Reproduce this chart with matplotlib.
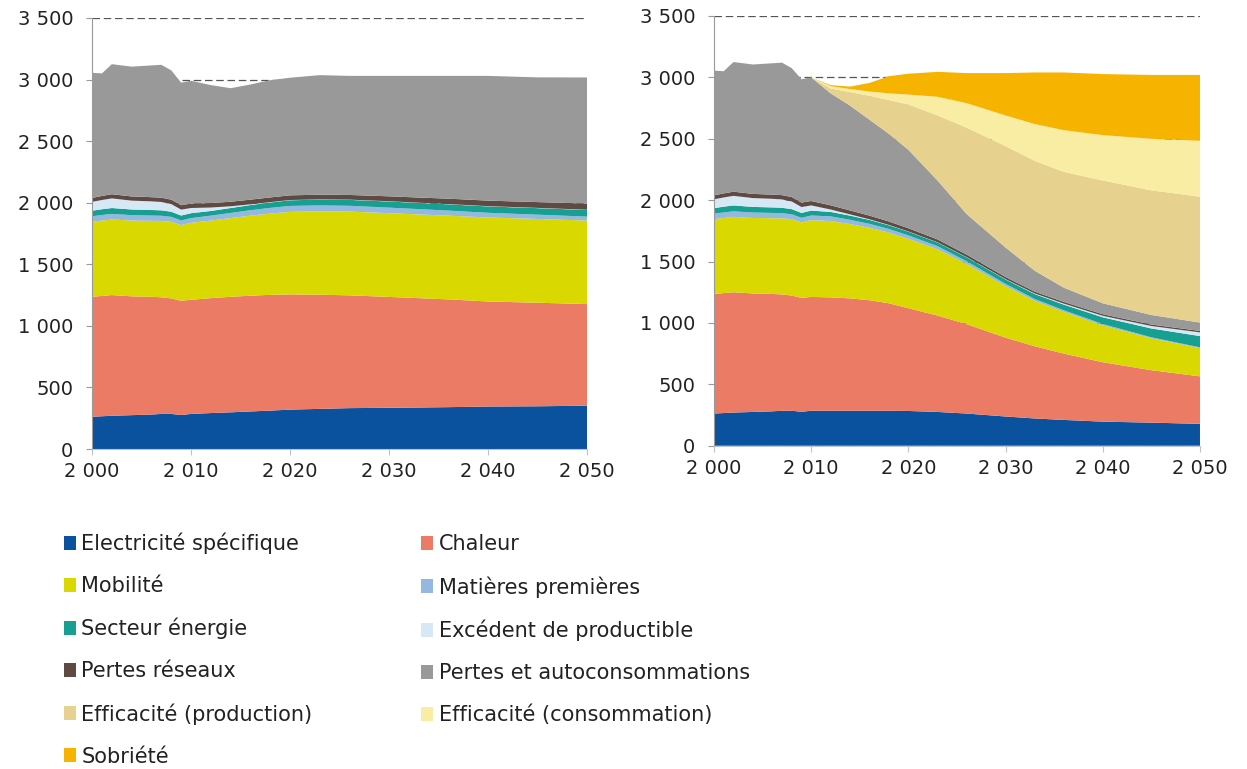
import matplotlib
matplotlib.use('Agg')
import matplotlib.pyplot as plt
from matplotlib.patches import Patch
from matplotlib.ticker import FuncFormatter

years = [2000, 2001, 2002, 2004, 2006, 2007, 2008, 2009, 2010, 2012, 2014,
         2016, 2018, 2020, 2023, 2026, 2030, 2033, 2036, 2040, 2045, 2050]

labels = ['Electricité spécifique', 'Chaleur', 'Mobilité', 'Matières premières',
          'Secteur énergie', 'Excédent de productible', 'Pertes réseaux',
          'Pertes et autoconsommations', 'Efficacité (production)',
          'Efficacité (consommation)', 'Sobriété']
colors = ['#0a529e', '#ec7b66', '#d9d800', '#95b8e0', '#17a092', '#d6e7f5',
          '#5e4a43', '#999999', '#e6d18f', '#f8eda2', '#f6b300']

# scenario tendanciel (left)
elec_l = [262, 266, 270, 275, 280, 285, 285, 276, 285, 292, 298, 305, 312, 320, 326, 332, 335, 337, 340, 345, 347, 352]
chaleur_l = [974, 977, 980, 965, 956, 947, 938, 928, 927, 933, 938, 940, 940, 935, 927, 916, 900, 888, 875, 853, 841, 825]
mobilite_l = [609, 612, 614, 615, 617, 620, 622, 614, 625, 630, 639, 650, 660, 671, 677, 680, 680, 680, 680, 682, 680, 678]
matieres_l = [45, 45, 45, 44, 43, 42, 40, 38, 38, 40, 42, 44, 46, 48, 48, 47, 45, 43, 41, 38, 35, 32]
energie_l = [45, 47, 48, 46, 45, 44, 42, 40, 40, 38, 40, 42, 44, 46, 47, 48, 50, 50, 51, 52, 53, 54]
excedent_l = [72, 75, 78, 72, 70, 68, 62, 48, 42, 28, 14, 6, 3, 2, 2, 2, 2, 2, 2, 2, 2, 2]
reseaux_l = [32, 33, 34, 34, 34, 35, 36, 36, 36, 36, 37, 38, 38, 38, 38, 38, 40, 42, 44, 45, 47, 50]
pertes_l = [1016, 995, 1056, 1054, 1070, 1079, 1050, 995, 997, 958, 922, 935, 952, 955, 971, 967, 978, 988, 997, 1013, 1013, 1024]
zeros = [0] * len(years)

# scenario negaWatt (right)
elec_r = [262, 266, 270, 275, 280, 285, 285, 276, 285, 285, 285, 285, 285, 283, 275, 262, 238, 222, 210, 196, 188, 178]
chaleur_r = [974, 977, 980, 965, 956, 947, 938, 928, 927, 923, 915, 900, 875, 837, 785, 728, 642, 588, 540, 484, 427, 387]
mobilite_r = [609, 612, 614, 615, 617, 620, 622, 614, 625, 622, 605, 590, 575, 565, 540, 490, 420, 370, 340, 300, 260, 230]
matieres_r = [45, 45, 45, 44, 43, 42, 40, 38, 38, 38, 35, 32, 30, 28, 25, 22, 18, 15, 13, 11, 8, 6]
energie_r = [45, 47, 48, 46, 45, 44, 42, 40, 40, 36, 34, 32, 30, 30, 30, 32, 36, 40, 46, 55, 72, 92]
excedent_r = [72, 75, 78, 72, 70, 68, 62, 48, 42, 20, 10, 5, 3, 2, 2, 2, 3, 5, 8, 12, 20, 30]
reseaux_r = [32, 33, 34, 34, 34, 35, 36, 36, 36, 34, 32, 30, 28, 26, 23, 20, 17, 15, 14, 13, 12, 12]
pertes_r = [1016, 995, 1056, 1054, 1070, 1079, 1050, 1005, 1007, 912, 854, 781, 714, 639, 480, 330, 240, 170, 116, 89, 78, 68]
effprod_r = [0, 0, 0, 0, 0, 0, 0, 0, 0, 40, 110, 195, 275, 370, 530, 704, 826, 895, 943, 1000, 1015, 1025]
effcons_r = [0, 0, 0, 0, 0, 0, 0, 0, 0, 19, 25, 35, 55, 80, 152, 200, 250, 300, 340, 370, 420, 456]
sobriete_r = [0, 0, 0, 0, 0, 0, 0, 0, 0, 8, 20, 70, 140, 170, 203, 245, 345, 420, 470, 497, 520, 536]

left_series = [elec_l, chaleur_l, mobilite_l, matieres_l, energie_l, excedent_l,
               reseaux_l, pertes_l, zeros, zeros, zeros]
right_series = [elec_r, chaleur_r, mobilite_r, matieres_r, energie_r, excedent_r,
                reseaux_r, pertes_r, effprod_r, effcons_r, sobriete_r]

plt.rcParams['font.family'] = ['DejaVu Sans']
fig = plt.figure(figsize=(12.47, 7.69), dpi=100)
ax1 = fig.add_axes([0.0738, 0.4161, 0.397, 0.5605])
ax2 = fig.add_axes([0.5726, 0.4204, 0.3897, 0.5588])

fmt = FuncFormatter(lambda v, _: f"{int(round(v)):,}".replace(',', ' '))

for ax, series in [(ax1, left_series), (ax2, right_series)]:
    ax.stackplot(years, *series, colors=colors, linewidth=0)
    ax.set_xlim(2000, 2050)
    ax.set_ylim(0, 3500)
    ax.set_xticks(range(2000, 2051, 10))
    ax.set_yticks(range(0, 3501, 500))
    ax.xaxis.set_major_formatter(fmt)
    ax.yaxis.set_major_formatter(fmt)
    ax.yaxis.grid(True, linestyle=(0, (6, 3)), color='#555555', linewidth=0.9)
    ax.set_axisbelow(True)
    for s in ['top', 'right']:
        ax.spines[s].set_visible(False)
    ax.spines['left'].set_color('#9a9a9a')
    ax.spines['bottom'].set_color('#b8c4d0')
    ax.tick_params(axis='y', length=4.5, color='#9a9a9a', pad=9, labelsize=14, labelcolor='#222222')
    ax.tick_params(axis='x', length=4.5, color='#b8c4d0', pad=5, labelsize=14, labelcolor='#222222')

handles = [Patch(facecolor=c, edgecolor='none') for c in colors]
order = [0, 2, 4, 6, 8, 10, 1, 3, 5, 7, 9]
fig.legend([handles[i] for i in order], [labels[i] for i in order],
           ncol=2, loc='upper left', bbox_to_anchor=(0.036, 0.3316),
           frameon=False, fontsize=15, handlelength=0.6, handleheight=0.65,
           handletextpad=0.25, labelspacing=1.05, columnspacing=5.2,
           labelcolor='#222222')

fig.savefig('out.png', dpi=100)
